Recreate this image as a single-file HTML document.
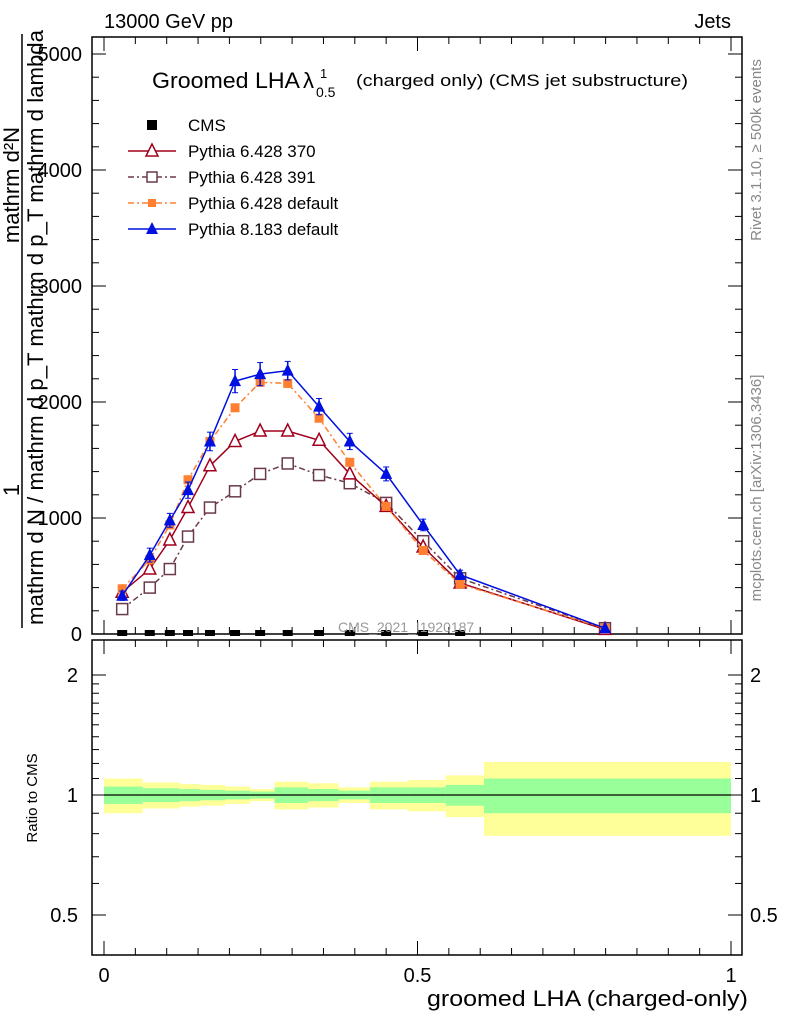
<!DOCTYPE html>
<html><head><meta charset="utf-8"><style>
body{margin:0;background:#fff;width:786px;height:1024px;overflow:hidden;font-family:"Liberation Sans",sans-serif}
svg text{font-family:"Liberation Sans",sans-serif}
</style></head><body>
<svg id="c" width="786" height="1024" xmlns="http://www.w3.org/2000/svg">
<g id="g"></g>
</svg>
<script>
const xs=[0.029,0.073,0.105,0.134,0.169,0.209,0.249,0.293,0.343,0.392,0.450,0.509,0.568,0.799];
const cmsVals=[0,0,0,0,0,0,0,0,0,0,0,0,0];
const cmsXs=[0.029,0.073,0.105,0.134,0.169,0.209,0.249,0.293,0.343,0.392,0.450,0.509,0.568];
const p370=[360,560,810,1090,1450,1660,1750,1750,1670,1380,1100,750,440,40];
const p391=[215,400,560,840,1090,1230,1380,1470,1370,1300,1130,800,480,50];
const p6def=[390,640,940,1330,1660,1950,2170,2160,1860,1480,1100,720,430,50];
const p8def=[330,680,980,1240,1660,2180,2240,2270,1960,1660,1380,940,510,50];
const p8err=[40,60,60,70,80,100,100,80,70,70,60,50,40,10];
const yTicks=[0,1000,2000,3000,4000,5000];
const xTicks=[0,0.5,1];
const rTicks=[0.5,1,2];
const rEdges=[0,0.0617,0.121,0.153,0.193,0.233,0.272,0.325,0.374,0.424,0.485,0.545,0.606,1.0];
const rGreen=[0.05,0.04,0.035,0.03,0.025,0.02,0.045,0.035,0.025,0.045,0.045,0.06,0.10];
const rYellow=[0.10,0.075,0.065,0.06,0.05,0.035,0.08,0.07,0.045,0.08,0.09,0.12,0.21];

const NS="http://www.w3.org/2000/svg",G=document.getElementById('g');
function X(v){return 104+627*v;}
function Y(v){return 634-0.116*v;}
function R(r){return 795-120*Math.log2(r);}
function el(t,a,p){const e=document.createElementNS(NS,t);for(const k in a)e.setAttribute(k,a[k]);(p||G).appendChild(e);return e;}
function tx(s,x,y,a){const e=el('text',Object.assign({x:x,y:y,'font-size':20,fill:'#000'},a||{}));e.textContent=s;return e;}

for(let i=0;i<rGreen.length;i++){
 const x0=X(rEdges[i]),x1=X(rEdges[i+1]);
 const by=el('rect',{x:x0,y:R(1+rYellow[i]),width:x1-x0,height:R(1-rYellow[i])-R(1+rYellow[i]),fill:'#ffff99'});
 
 
}
for(let i=0;i<rGreen.length;i++){
 const x0=X(rEdges[i]),x1=X(rEdges[i+1]);
 const bg=el('rect',{x:x0,y:R(1+rGreen[i]),width:x1-x0,height:R(1-rGreen[i])-R(1+rGreen[i]),fill:'#99ff99'});
 
 
}
el('line',{x1:X(0),x2:X(1),y1:R(1),y2:R(1),stroke:'#000','stroke-width':1.2});

const f1=el('rect',{x:92,y:37,width:650,height:597,fill:'none',stroke:'#000','stroke-width':1.5});

const f2=el('rect',{x:92,y:640,width:650,height:315,fill:'none',stroke:'#000','stroke-width':1.5});


for(const v of yTicks){const y=Y(v);
 el('line',{x1:92,x2:106,y1:y,y2:y,stroke:'#000'});el('line',{x1:728,x2:742,y1:y,y2:y,stroke:'#000'});
 const t=tx(String(v),82,y+7,{'text-anchor':'end'});
 
}
for(let v=200;v<5200;v+=200){if(v%1000==0)continue;const y=Y(v);
 el('line',{x1:92,x2:99,y1:y,y2:y,stroke:'#000'});el('line',{x1:735,x2:742,y1:y,y2:y,stroke:'#000'});}
for(let v=0;v<=1.001;v+=0.05){const big=Math.abs(v*10-Math.round(v*10))<1e-6&&Math.round(v*10)%5==0;const L=big?14:7;const x=X(v);
 el('line',{x1:x,x2:x,y1:634,y2:634-L,stroke:'#000'});el('line',{x1:x,x2:x,y1:37,y2:37+L,stroke:'#000'});
 el('line',{x1:x,x2:x,y1:955,y2:955-L,stroke:'#000'});el('line',{x1:x,x2:x,y1:640,y2:640+L,stroke:'#000'});}
for(const v of xTicks){const t=tx(String(v),X(v),982,{'text-anchor':'middle'});
 }
for(const r of rTicks){const y=R(r);
 el('line',{x1:92,x2:106,y1:y,y2:y,stroke:'#000'});el('line',{x1:728,x2:742,y1:y,y2:y,stroke:'#000'});
 const t1=tx(String(r),78,y+7,{'text-anchor':'end'});
 const t2=tx(String(r),750,y+7);}
for(const r of [0.6,0.7,0.8,0.9,1.1,1.2,1.3,1.4,1.5,1.6,1.7,1.8,1.9]){const y=R(r);
 el('line',{x1:92,x2:99,y1:y,y2:y,stroke:'#000'});el('line',{x1:735,x2:742,y1:y,y2:y,stroke:'#000'});}

function series(vals,color,dash,marker,name){
 const pts=vals.map((v,i)=>X(xs[i])+','+Y(v)).join(' ');
 const l=el('polyline',{points:pts,fill:'none',stroke:color,'stroke-width':1.5,'stroke-dasharray':dash});
 
 vals.forEach((v,i)=>{const x=X(xs[i]),y=Y(v);let m;
  if(marker=='tri')m=el('polygon',{points:`${x},${y-7} ${x-6},${y+5} ${x+6},${y+5}`,fill:'#fff',stroke:color,'stroke-width':1.5});
  else if(marker=='ftri')m=el('polygon',{points:`${x},${y-7} ${x-6},${y+5} ${x+6},${y+5}`,fill:color});
  else if(marker=='sq')m=el('rect',{x:x-5.5,y:y-5.5,width:11,height:11,fill:'#fff',stroke:color,'stroke-width':1.5});
  else m=el('rect',{x:x-4.5,y:y-4.5,width:9,height:9,fill:color});
  });
}
series(p391,'#6b3a4a','6,3,2,3','sq','pythia-6428-391');
series(p370,'#a0001c','','tri','pythia-6428-370');
series(p6def,'#ff8030','6,3,2,3','fsq','pythia-6428-default');
p8def.forEach((v,i)=>{const x=X(xs[i]);el('line',{x1:x,x2:x,y1:Y(v-p8err[i]),y2:Y(v+p8err[i]),stroke:'#0010e0','stroke-width':1.5});
 el('line',{x1:x-3,x2:x+3,y1:Y(v-p8err[i]),y2:Y(v-p8err[i]),stroke:'#0010e0'});el('line',{x1:x-3,x2:x+3,y1:Y(v+p8err[i]),y2:Y(v+p8err[i]),stroke:'#0010e0'});});
series(p8def,'#0010e0','','ftri','pythia-8183-default');
cmsXs.forEach((xv,i)=>{const m=el('rect',{x:X(xv)-5,y:Y(cmsVals[i])-4,width:10,height:6,fill:'#000'});
 });

let t;
t=tx('13000 GeV pp',104,28);
t=tx('Jets',731,28,{'text-anchor':'end'});
t=tx('Groomed LHA',152,88,{'font-size':22,textLength:148,lengthAdjust:'spacingAndGlyphs'});
t=tx('λ',303,88,{'font-size':22});
t=tx('1',320,78,{'font-size':13});
t=tx('0.5',316,97,{'font-size':14});
t=tx('(charged only) (CMS jet substructure)',356,86,{'font-size':17,textLength:332,lengthAdjust:'spacingAndGlyphs'});
t=tx('CMS_2021_I1920187',338,632,{'font-size':14,fill:'#999'});
t=tx('groomed LHA (charged-only)',427,1006,{'font-size':22,textLength:321,lengthAdjust:'spacingAndGlyphs'});
t=tx('Ratio to CMS',37,798,{'font-size':15,'text-anchor':'middle',transform:'rotate(-90 37 798)'});
t=tx('Rivet 3.1.10, ≥ 500k events',761,150,{'font-size':15,fill:'#888','text-anchor':'middle',transform:'rotate(-90 761 150)'});
t=tx('mcplots.cern.ch [arXiv:1306.3436]',761,488,{'font-size':15,fill:'#888','text-anchor':'middle',transform:'rotate(-90 761 488)'});
t=tx('1',19,490,{'font-size':22,'text-anchor':'middle',transform:'rotate(-90 19 490)'});
el('line',{x1:22,x2:22,y1:34,y2:628,stroke:'#000','stroke-width':1.5});
t=tx('mathrm d N / mathrm d p_T mathrm d p_T mathrm d lambda',43,625,{'font-size':22,textLength:595,lengthAdjust:'spacingAndGlyphs',transform:'rotate(-90 43 625)'});
t=tx('mathrm d²N',19,185,{'font-size':22,'text-anchor':'middle',transform:'rotate(-90 19 185)'});

const L=[['CMS','cms'],['Pythia 6.428 370','p370'],['Pythia 6.428 391','p391'],['Pythia 6.428 default','p6'],['Pythia 8.183 default','p8']];
L.forEach((e,i)=>{const y=125+26*i,x=152;
 const g=el('g',{});
 if(e[1]=='cms')el('rect',{x:x-5,y:y-5,width:10,height:10,fill:'#000'},g);
 else{const c={p370:'#a0001c',p391:'#6b3a4a',p6:'#ff8030',p8:'#0010e0'}[e[1]];const d=(e[1]=='p391'||e[1]=='p6')?'6,3,2,3':'';
  el('line',{x1:x-24,x2:x+24,y1:y,y2:y,stroke:c,'stroke-width':1.5,'stroke-dasharray':d},g);
  if(e[1]=='p370')el('polygon',{points:`${x},${y-7} ${x-6},${y+5} ${x+6},${y+5}`,fill:'#fff',stroke:c,'stroke-width':1.5},g);
  if(e[1]=='p391')el('rect',{x:x-5,y:y-5,width:10,height:10,fill:'#fff',stroke:c,'stroke-width':1.5},g);
  if(e[1]=='p6')el('rect',{x:x-4,y:y-4,width:8,height:8,fill:c},g);
  if(e[1]=='p8')el('polygon',{points:`${x},${y-7} ${x-6},${y+5} ${x+6},${y+5}`,fill:c},g);}
 const tt=el('text',{x:188,y:y+6,'font-size':17},g);tt.textContent=e[0];});
</script>
</body></html>
